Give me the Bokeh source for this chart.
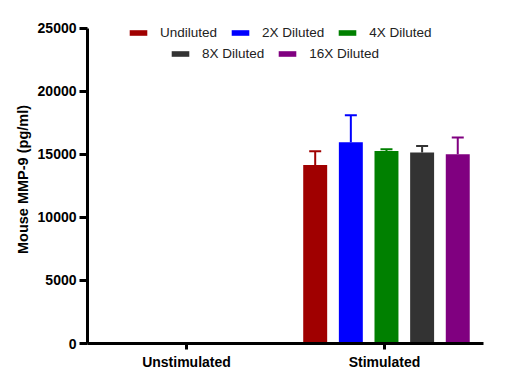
from bokeh.plotting import figure
from bokeh.models import (ColumnDataSource, Range1d, FactorRange, FixedTicker, Legend,
                          LegendItem, Whisker, TeeHead)
from bokeh.transform import dodge
from bokeh.embed import file_html
from bokeh.resources import INLINE

categories = ["Unstimulated", "Stimulated"]
series = ["Undiluted", "2X Diluted", "4X Diluted", "8X Diluted", "16X Diluted"]
colors = ["#A00000", "#0000FF", "#008000", "#333333", "#800080"]
# mean values per series: [Unstimulated, Stimulated]
undiluted = [0, 14150]
diluted_2x = [0, 15950]
diluted_4x = [0, 15250]
diluted_8x = [0, 15150]
diluted_16x = [0, 15000]
# upper error (SD) per series
err_undiluted = [0, 1080]
err_2x = [0, 2150]
err_4x = [0, 150]
err_8x = [0, 500]
err_16x = [0, 1330]
y_ticks = [0, 5000, 10000, 15000, 20000, 25000]
y_max = 25000

values = [undiluted, diluted_2x, diluted_4x, diluted_8x, diluted_16x]
errors = [err_undiluted, err_2x, err_4x, err_8x, err_16x]

FONT = "Liberation Sans"

p = figure(width=505, height=375, x_range=FactorRange(factors=categories, range_padding=0),
           y_range=Range1d(0, 26000), output_backend="svg", toolbar_location=None,
           min_border_left=87, min_border_right=22, min_border_top=15, min_border_bottom=32)
p.outline_line_color = None
p.grid.grid_line_color = None
p.background_fill_color = "white"

step = 0.18
width = 0.121
renderers = []
for i, (name, col, vals, errs) in enumerate(zip(series, colors, values, errors)):
    off = (i - 2) * step + 0.01
    src = ColumnDataSource(dict(cat=categories, val=vals))
    r = p.vbar(x=dodge("cat", off, range=p.x_range), top="val", width=width, source=src,
               fill_color=col, line_color=None)
    renderers.append(r)
    keep = [k for k, e in enumerate(errs) if e > 0]
    wsrc = ColumnDataSource(dict(cat=[categories[k] for k in keep],
                                 val=[vals[k] for k in keep],
                                 up=[vals[k] + errs[k] for k in keep]))
    w = Whisker(base=dodge("cat", off, range=p.x_range), lower="val", upper="up", source=wsrc,
                line_color=col, line_width=2, lower_head=None,
                upper_head=TeeHead(size=12, line_color=col, line_width=2))
    p.add_layout(w)

# axes
p.yaxis.ticker = FixedTicker(ticks=y_ticks)
p.yaxis.bounds = (0, y_max)
p.yaxis.minor_tick_line_color = None
p.yaxis.major_tick_out = 8
p.yaxis.major_tick_in = 0
p.yaxis.major_tick_line_width = 3
p.yaxis.axis_line_width = 3
p.yaxis.major_label_standoff = 3
p.yaxis.major_label_text_font = FONT
p.yaxis.major_label_text_font_style = "bold"
p.yaxis.major_label_text_font_size = "14px"
p.yaxis.major_label_text_color = "black"
p.yaxis.axis_label = "Mouse MMP-9 (pg/ml)"
p.yaxis.axis_label_text_font = FONT
p.yaxis.axis_label_text_font_style = "bold"
p.yaxis.axis_label_text_font_size = "14.5px"
p.yaxis.axis_label_text_color = "black"
p.yaxis.axis_label_standoff = 4

p.xaxis.major_tick_out = 6
p.xaxis.major_tick_in = 0
p.xaxis.major_tick_line_width = 3
p.xaxis.axis_line_width = 3
p.xaxis.major_label_standoff = 4
p.xaxis.major_label_text_font = FONT
p.xaxis.major_label_text_font_style = "bold"
p.xaxis.major_label_text_font_size = "14px"
p.xaxis.major_label_text_color = "black"

def make_legend(items, loc):
    lg = Legend(items=[LegendItem(label=series[k], renderers=[renderers[k]]) for k in items],
                location=loc, orientation="horizontal", padding=0, margin=0,
                border_line_color=None, background_fill_alpha=0,
                glyph_width=22, glyph_height=7, label_standoff=11, spacing=12,
                label_text_font=FONT, label_text_font_size="13.5px",
                label_text_color="#222222")
    return lg

p.add_layout(make_legend([0, 1, 2], (40, 303)))
p.add_layout(make_legend([3, 4], (82, 282)))

open("out.html", "w").write(file_html(p, INLINE))
